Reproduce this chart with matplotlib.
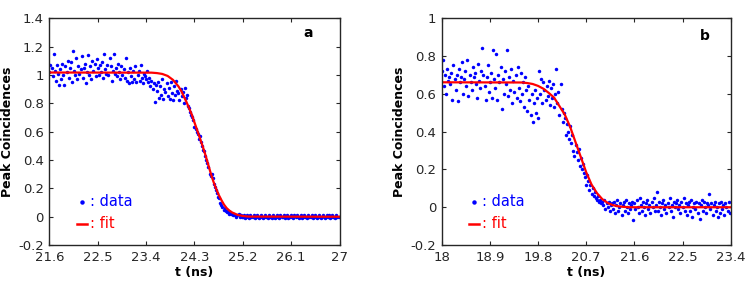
import numpy as np
import matplotlib
matplotlib.use("Agg")
import matplotlib.pyplot as plt

# ---------------- data: panel a ----------------
a_t0, a_step = 21.6, 0.02
a_y = [
    1.02, 1.07, 1.05, 0.99, 1.15, 1.03, 0.96, 1.07, 1.01, 0.93,
    1.04, 0.97, 1.08, 1.00, 0.93, 1.06, 1.02, 1.10, 0.98, 1.05,
    1.09, 0.95, 1.17, 1.03, 1.00, 1.12, 0.97, 1.06, 1.01, 1.04,
    1.13, 0.98, 1.05, 1.08, 0.94, 1.02, 1.14, 1.00, 1.06, 0.97,
    1.10, 1.03, 1.08, 0.99, 1.11, 1.05, 1.00, 1.07, 1.02, 1.09,
    0.98, 1.15, 1.04, 1.01, 1.07, 1.00, 1.12, 1.06, 0.96, 1.03,
    1.15, 1.01, 1.05, 0.99, 1.08, 1.02, 0.97, 1.06, 1.00, 1.04,
    0.98, 1.12, 0.96, 1.02, 0.94, 1.05, 0.99, 0.95, 1.03, 0.97,
    1.06, 0.95, 1.00, 1.03, 0.96, 1.07, 0.98, 0.94, 1.01, 0.99,
    0.97, 1.03, 0.95, 0.98, 0.92, 0.96, 0.90, 0.94, 0.81, 0.93,
    0.89, 0.95, 0.84, 0.92, 0.86, 0.97, 0.83, 0.90, 0.88, 0.94,
    0.85, 0.91, 0.83, 0.95, 0.87, 0.82, 0.92, 0.86, 0.96, 0.89,
    0.87, 0.82, 0.90, 0.85, 0.88, 0.80, 0.91, 0.84, 0.86, 0.78,
    0.77, 0.74, 0.72, 0.70, 0.68, 0.63, 0.62, 0.60, 0.58, 0.55,
    0.57, 0.53, 0.50, 0.47, 0.46, 0.43, 0.40, 0.38, 0.35, 0.30,
    0.29, 0.30, 0.27, 0.23, 0.21, 0.19, 0.17, 0.14, 0.13, 0.10,
    0.08, 0.07, 0.05, 0.06, 0.04, 0.03, 0.04, 0.02, 0.03, 0.02,
    0.02, 0.01, 0.02, 0.01, 0.00, 0.01, 0.02, 0.00, 0.01, 0.00,
    0.00, 0.01, -0.01, 0.00, 0.01, 0.00, -0.01, 0.01, 0.00, 0.00,
    0.01, -0.01, 0.00, 0.01, 0.00, -0.01, 0.00, 0.01, 0.00, -0.01,
    0.00, 0.01, 0.00, -0.01, 0.01, 0.00, 0.00, -0.01, 0.01, 0.00,
    -0.01, 0.00, 0.01, 0.00, -0.01, 0.01, 0.00, 0.00, 0.01, -0.01,
    0.00, 0.01, -0.01, 0.00, 0.00, 0.01, 0.00, -0.01, 0.01, 0.00,
    0.01, 0.00, -0.01, 0.00, 0.01, -0.01, 0.00, 0.01, 0.00, 0.00,
    -0.01, 0.01, 0.00, 0.00, 0.01, -0.01, 0.00, 0.01, 0.00, -0.01,
    0.00, 0.01, 0.00, -0.01, 0.00, 0.01, -0.01, 0.00, 0.01, 0.00,
    0.01, -0.01, 0.00, 0.01, 0.00, 0.00, -0.01, 0.01, 0.00, 0.00,
]
a_fit_t = [21.6, 23.5, 23.6, 23.7, 23.8, 23.9, 24.0, 24.05, 24.1, 24.15, 24.2,
           24.25, 24.3, 24.35, 24.4, 24.45, 24.5, 24.55, 24.6, 24.65, 24.7,
           24.75, 24.8, 24.85, 24.9, 24.95, 25.0, 25.1, 25.2, 25.3, 27.0]
a_fit_y = [1.017, 1.016, 1.013, 1.007, 0.993, 0.965, 0.92, 0.89, 0.85, 0.81,
           0.765, 0.72, 0.665, 0.61, 0.555, 0.50, 0.44, 0.375, 0.31, 0.25,
           0.20, 0.155, 0.118, 0.085, 0.06, 0.043, 0.03, 0.013, 0.005, 0.001, 0.0]
a_xticks = [21.6, 22.5, 23.4, 24.3, 25.2, 26.1, 27.0]
a_xlabels = ["21.6", "22.5", "23.4", "24.3", "25.2", "26.1", "27"]
a_yticks = [-0.2, 0, 0.2, 0.4, 0.6, 0.8, 1.0, 1.2, 1.4]
a_ylabels = ["-0.2", "0", "0.2", "0.4", "0.6", "0.8", "1", "1.2", "1.4"]

# ---------------- data: panel b ----------------
b_t0, b_step = 18.0, 0.02
b_y = [
    0.72, 0.78, 0.64, 0.70, 0.60, 0.73, 0.67, 0.69, 0.65, 0.71,
    0.57, 0.75, 0.68, 0.62, 0.70, 0.56, 0.73, 0.66, 0.69, 0.77,
    0.60, 0.68, 0.72, 0.64, 0.78, 0.59, 0.70, 0.66, 0.62, 0.74,
    0.69, 0.71, 0.65, 0.58, 0.76, 0.67, 0.63, 0.72, 0.84, 0.70,
    0.64, 0.57, 0.69, 0.75, 0.61, 0.66, 0.71, 0.58, 0.83, 0.68,
    0.63, 0.81, 0.57, 0.70, 0.66, 0.74, 0.52, 0.68, 0.60, 0.72,
    0.65, 0.83, 0.59, 0.69, 0.62, 0.73, 0.55, 0.67, 0.61, 0.70,
    0.58, 0.74, 0.63, 0.56, 0.71, 0.60, 0.66, 0.53, 0.69, 0.62,
    0.51, 0.64, 0.57, 0.49, 0.60, 0.45, 0.55, 0.62, 0.50, 0.58,
    0.47, 0.72, 0.60, 0.68, 0.55, 0.66, 0.62, 0.57, 0.64, 0.59,
    0.67, 0.54, 0.63, 0.58, 0.65, 0.53, 0.60, 0.73, 0.55, 0.61,
    0.49, 0.65, 0.52, 0.45, 0.50, 0.47, 0.38, 0.44, 0.40, 0.36,
    0.43, 0.34, 0.38, 0.30, 0.27, 0.33, 0.29, 0.25, 0.31, 0.22,
    0.26, 0.20, 0.23, 0.18, 0.16, 0.12, 0.17, 0.14, 0.09, 0.12,
    0.07, 0.10, 0.06, 0.08, 0.05, 0.04, 0.06, 0.03, 0.04, 0.02,
    0.03, 0.01, 0.04, -0.01, 0.02, 0.00, 0.03, -0.02, 0.01, 0.02,
    -0.01, 0.03, -0.03, 0.01, 0.04, -0.02, 0.00, 0.02, -0.04, 0.01,
    0.03, -0.02, 0.04, 0.00, -0.03, 0.02, -0.01, 0.01, 0.03, -0.07,
    0.02, -0.01, 0.04, 0.00, -0.03, 0.05, 0.01, -0.02, 0.03, 0.00,
    -0.04, 0.02, 0.04, -0.01, 0.01, -0.03, 0.03, 0.00, 0.05, -0.02,
    0.01, 0.08, -0.02, 0.03, 0.00, -0.04, 0.02, 0.04, -0.01, 0.01,
    -0.03, 0.02, 0.00, 0.05, -0.02, 0.01, -0.05, 0.03, 0.00, 0.02,
    0.04, -0.01, 0.01, -0.03, 0.03, 0.00, 0.05, -0.02, 0.02, -0.04,
    0.01, 0.03, -0.02, 0.04, -0.05, 0.00, 0.02, -0.01, 0.03, -0.03,
    0.02, -0.06, 0.01, 0.04, -0.02, 0.03, 0.00, -0.03, 0.02, 0.01,
    0.07, -0.01, 0.02, -0.04, 0.01, 0.03, -0.02, 0.00, -0.05, 0.02,
    -0.03, 0.03, -0.01, 0.01, -0.04, 0.02, 0.00, -0.02, 0.03, -0.03,
]
b_fit_t = [18.0, 19.5, 19.6, 19.7, 19.8, 19.9, 20.0, 20.1, 20.2, 20.3, 20.4,
           20.5, 20.6, 20.7, 20.8, 20.9, 21.0, 21.1, 21.2, 21.3, 21.4, 21.5, 23.4]
b_fit_y = [0.661, 0.660, 0.657, 0.652, 0.642, 0.627, 0.605, 0.58, 0.535, 0.49,
           0.425, 0.345, 0.265, 0.185, 0.12, 0.075, 0.043, 0.023, 0.011,
           0.005, 0.002, 0.0, 0.0]
b_xticks = [18.0, 18.9, 19.8, 20.7, 21.6, 22.5, 23.4]
b_xlabels = ["18", "18.9", "19.8", "20.7", "21.6", "22.5", "23.4"]
b_yticks = [-0.2, 0, 0.2, 0.4, 0.6, 0.8, 1.0]
b_ylabels = ["-0.2", "0", "0.2", "0.4", "0.6", "0.8", "1"]

# ---------------- figure ----------------
plt.rcParams['font.family'] = ['DejaVu Sans']
fig = plt.figure(figsize=(7.48, 2.89), dpi=100)

BLUE = "#0000ff"
RED = "#ff0000"
SPINE = "#262626"

def panel(rect, t0, step, y, fit_t, fit_y, xlim, ylim, xticks, xlabels,
          yticks, ylabels, letter, letter_pos):
    ax = fig.add_axes(rect)
    t = t0 + step * np.arange(len(y))
    ax.plot(t, y, linestyle="none", marker="o", markersize=2.5,
            color=BLUE, markeredgewidth=0)
    ax.plot(fit_t, fit_y, color=RED, linewidth=1.6)
    ax.set_xlim(*xlim)
    ax.set_ylim(*ylim)
    ax.set_xticks(xticks)
    ax.set_xticklabels(xlabels)
    ax.set_yticks(yticks)
    ax.set_yticklabels(ylabels)
    ax.tick_params(direction="in", length=3, width=0.8, colors=SPINE,
                   labelcolor="#262626", labelsize=9.5, top=True, right=True, pad=4)
    for s in ax.spines.values():
        s.set_color(SPINE)
        s.set_linewidth(1.0)
    ax.set_xlabel("t (ns)", fontsize=9, fontweight="bold", labelpad=2)
    ax.set_ylabel("Peak Coincidences", fontsize=9, fontweight="bold", labelpad=3)
    ax.text(letter_pos[0], letter_pos[1], letter, transform=ax.transAxes,
            fontsize=10, fontweight="bold", ha="center", va="center")
    # manual legend
    ax.plot([0.112], [0.19], transform=ax.transAxes, marker="o",
            markersize=3.2, color=BLUE, markeredgewidth=0, linestyle="none")
    ax.text(0.14, 0.19, ": data", transform=ax.transAxes, color=BLUE,
            fontsize=10.5, va="center", ha="left")
    ax.plot([0.095, 0.13], [0.093, 0.093], transform=ax.transAxes,
            color=RED, linewidth=1.8)
    ax.text(0.14, 0.093, ": fit", transform=ax.transAxes, color=RED,
            fontsize=10.5, va="center", ha="left")
    return ax

panel([0.066, 0.152, 0.388, 0.785], a_t0, a_step, a_y, a_fit_t, a_fit_y,
      (21.6, 27.0), (-0.2, 1.4), a_xticks, a_xlabels, a_yticks, a_ylabels,
      "a", (0.892, 0.934))
panel([0.5905, 0.152, 0.3864, 0.785], b_t0, b_step, b_y, b_fit_t, b_fit_y,
      (18.0, 23.4), (-0.2, 1.0), b_xticks, b_xlabels, b_yticks, b_ylabels,
      "b", (0.911, 0.922))

fig.savefig("out.png", dpi=100)
